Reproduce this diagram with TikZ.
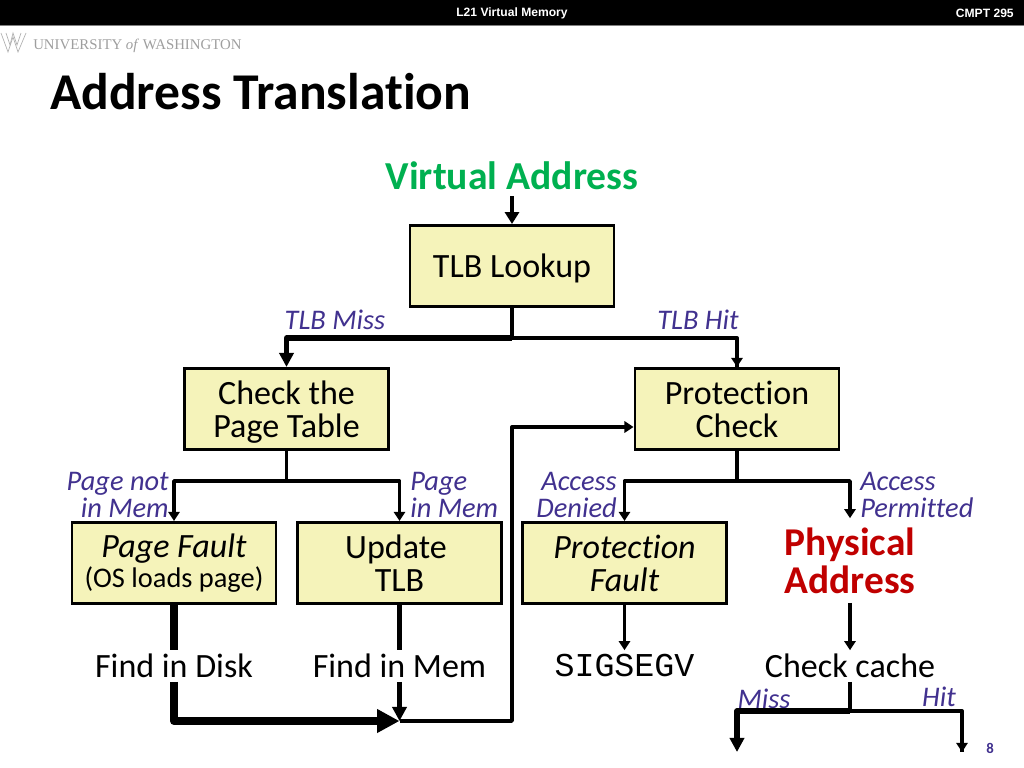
\documentclass[tikz,border=0pt]{standalone}
\usepackage{fontspec}
\setmainfont[Ligatures=NoCommon]{Carlito}
\newfontfamily\headfont{Liberation Sans}
\newfontfamily\logofont{Liberation Serif}
\setmonofont{Liberation Mono}
\usetikzlibrary{arrows.meta}
\definecolor{boxfill}{HTML}{F5F3BA}
\definecolor{labelblue}{HTML}{41318F}
\definecolor{vagreen}{HTML}{00B050}
\definecolor{pared}{HTML}{C00000}
\newcommand\nodepth[1]{\raisebox{0pt}[\height][0pt]{#1}}
\tikzset{
    boxnode/.style={draw,line width=2pt,fill=boxfill,minimum width=5.1cm,minimum height=2.03cm,inner sep=0pt,align=center,font=\fontsize{24.2}{23.5}\selectfont},
    plainnode/.style={inner sep=0pt,minimum height=0.775cm,font=\fontsize{24.2}{23.5}\selectfont},
    labelnode/.style={inner sep=0pt,text=labelblue,align=center,font=\fontsize{20.2}{19.2}\selectfont\itshape},
    headnode/.style={inner sep=0pt,text=white,font=\headfont\fontsize{8.6}{11}\selectfont\bfseries},
    thinline/.style={line width=2.4pt,line join=round},
    medline/.style={line width=2.6pt,line join=round},
    heavyline/.style={line width=3.6pt,line join=round},
    hugeline/.style={line width=5.8pt,line join=round},
    tipa/.style={-{Triangle[length=6.5pt,width=8pt]}},
    tipb/.style={-{Triangle[length=8.5pt,width=10pt]}},
    tipc/.style={-{Triangle[length=10pt,width=10pt]}},
    tipd/.style={-{Triangle[length=16pt,width=16pt]}}
}
\begin{document}
\begin{tikzpicture}[x=0.025cm,y=-0.025cm]
    \useasboundingbox (0,0) rectangle (1024,768);

    \fill[black] (0,0) rectangle (1024,25);
    \draw[gray,line width=0.6pt] (0,25.5) -- (1024,25.5);
    \node[headnode] (lecture) at (512,13) {L21 Virtual Memory};
    \node[headnode,anchor=east] (course) at (1014,13) {CMPT 295};

    \draw[black!30,line width=0.5pt] (1,33) -- (8,52) -- (13,37) -- (18,52) -- (26,33);
    \draw[black!30,line width=0.5pt] (6,33) -- (10,45) -- (13,33) -- (17,45) -- (21,33);
    \node[anchor=base west,inner sep=0pt,text=black!38,font=\logofont\fontsize{10.55}{12}\selectfont] (logo) at (33,49.5) {UNIVERSITY \textit{of} WASHINGTON};

    \node[anchor=base west,inner sep=0pt,font=\fontsize{36.7}{38}\selectfont\bfseries] (title) at (50,109.5) {Address Translation};

    \node[inner sep=0pt,minimum height=1cm,text=vagreen,font=\fontsize{28.2}{30}\selectfont\bfseries] (va) at (512,176) {Virtual Address};

    \node[boxnode] (tlb) at (512,266) {\nodepth{TLB Lookup}};
    \node[boxnode] (check) at (286.5,409) {Check the\\\nodepth{Page Table}};
    \node[boxnode] (prot) at (737,409) {Protection\\Check};
    \node[boxnode] (fault) at (174,563) {\textit{Page Fault}\\[-2pt]{\fontsize{20.2}{20}\selectfont (OS loads page)}};
    \node[boxnode] (update) at (399.5,563) {Update\hspace*{5pt}\\TLB};
    \node[boxnode] (pfault) at (624.5,563) {\textit{Protection}\\\textit{Fault}};
    \node[minimum width=5.1cm,minimum height=2.1cm,inner sep=0pt,align=center,text=pared,font=\fontsize{28}{27}\selectfont\bfseries] (pa) at (850,560.5) {Physical\\Address};

    \node[plainnode] (disk) at (174,666) {Find in Disk};
    \node[plainnode] (mem) at (399.5,666) {Find in Mem};
    \node[plainnode,font=\ttfamily\fontsize{23.7}{24}\selectfont] (segv) at (624.5,666) {SIGSEGV};
    \node[plainnode] (cache) at (850,666) {Check cache};

    \node[labelnode] (tlbmiss) at (335,320) {TLB Miss};
    \node[labelnode] (tlbhit) at (698,320) {TLB Hit};
    \node[labelnode,anchor=east,align=right] (notmem) at (169,494.5) {Page not\\in Mem};
    \node[labelnode,anchor=west,align=left] (inmem) at (410,494.5) {Page\\in Mem};
    \node[labelnode,anchor=east,align=right] (denied) at (617,494.5) {Access\\Denied};
    \node[labelnode,anchor=west,align=left] (permit) at (860,494.5) {Access\\Permitted};
    \node[labelnode] (cmiss) at (764,699) {Miss};
    \node[labelnode] (chit) at (939,697) {Hit};

    \node[text=labelblue,font=\fontsize{10.5}{12}\selectfont\bfseries] (pagenum) at (990,748) {8};

    \coordinate (tlbjoin) at (512,338);
    \coordinate (checkjoin) at (286.5,481);
    \coordinate (protjoin) at (737,481);
    \coordinate (memjoin) at (399.5,721);
    \coordinate (loopturn) at (512,721);
    \coordinate (cachejoin) at (850,711);
    \coordinate (missend) at (737,752);
    \coordinate (hitend) at (962,752);

    \draw[medline,tipb] (va.south) -- (tlb.north);
    \draw[thinline] (tlb.south) -- (tlbjoin);
    \draw[heavyline,tipc] (tlbjoin) -| (check.north);
    \draw[thinline] (tlbjoin) -| (prot.north);
    \draw[medline,tipa] (tlbjoin -| prot.north) -- (prot.north);

    \draw[medline] (check.south) -- (checkjoin);
    \draw[medline,tipa] (checkjoin) -| (fault.north);
    \draw[medline,tipa] (checkjoin) -| (update.north);
    \draw[medline] (prot.south) -- (protjoin);
    \draw[medline,tipa] (protjoin) -| (pfault.north);
    \draw[medline,tipa] (protjoin) -| (pa.north);

    \draw[hugeline] (fault.south) -- (disk.north);
    \draw[hugeline,tipd] (disk.south) |- (memjoin);
    \draw[heavyline] (update.south) -- (mem.north);
    \draw[heavyline,tipc] (mem.south) -- (memjoin);
    \draw[thinline,tipa] (memjoin) -- (loopturn) |- (prot.west |- 0,427);
    \draw[medline,tipa] (pfault.south) -- (segv.north);
    \draw[medline,tipa] (pa.south) -- (cache.north);

    \draw[medline] (cache.south) -- (cachejoin);
    \draw[heavyline,tipc] (cachejoin) -| (missend);
    \draw[thinline] (cachejoin) -| (hitend);
    \draw[medline,tipa] (hitend |- cachejoin) -- (hitend);
\end{tikzpicture}
\end{document}
